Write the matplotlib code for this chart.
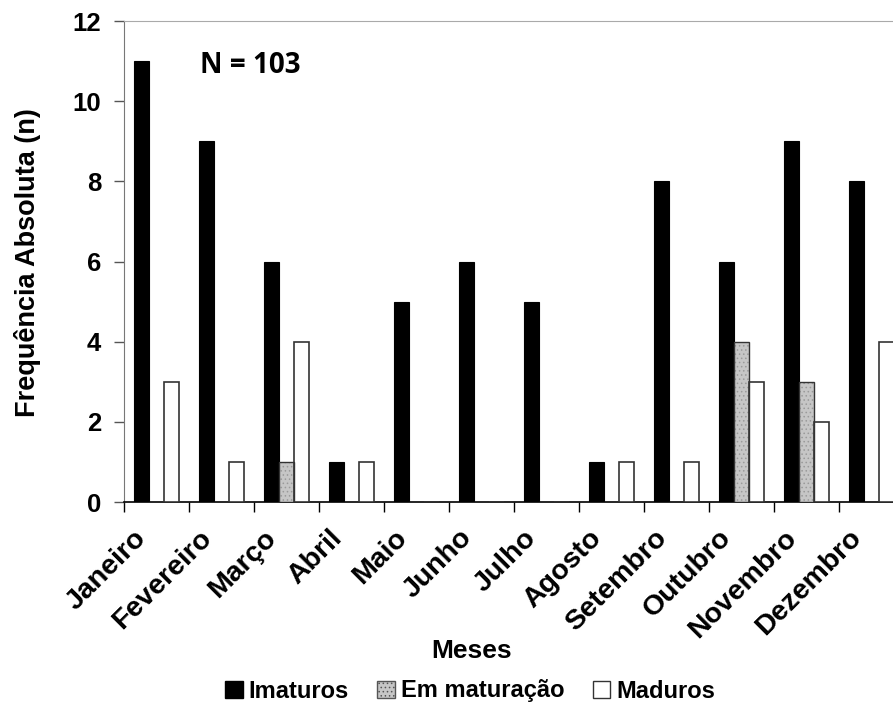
import matplotlib
matplotlib.use("Agg")
import matplotlib.pyplot as plt
import matplotlib.transforms as mtransforms
import numpy as np
from matplotlib.patches import Patch

months = ["Janeiro", "Fevereiro", "Março", "Abril", "Maio", "Junho", "Julho",
          "Agosto", "Setembro", "Outubro", "Novembro", "Dezembro"]
imaturos = [11, 9, 6, 1, 5, 6, 5, 1, 8, 6, 9, 8]
em_maturacao = [0, 0, 1, 0, 0, 0, 0, 0, 0, 4, 3, 0]
maduros = [3, 1, 4, 1, 0, 0, 0, 1, 1, 3, 2, 4]
series_names = ["Imaturos", "Em maturação", "Maduros"]
yticks = [0, 2, 4, 6, 8, 10, 12]

plt.rcParams['font.family'] = ['Liberation Sans', 'DejaVu Sans']
plt.rcParams['hatch.linewidth'] = 0.6

fig = plt.figure(figsize=(8.93, 7.13), dpi=100)
W, H = 893, 713
left, right, top, bottom = 124, 904, 21, 502
ax = fig.add_axes([left / W, 1 - bottom / H, (right - left) / W, (bottom - top) / H])

x = np.arange(len(months))
bw = 0.23
ax.bar(x - bw, imaturos, bw, color='black', edgecolor='black', linewidth=0.8, zorder=3)
ax.bar(x, em_maturacao, bw, color='#c6c6c6', edgecolor='#9a9a9a', linewidth=0,
       hatch='....', zorder=3)
ax.bar(x, em_maturacao, bw, fill=False, edgecolor='#333333', linewidth=1.0, zorder=4)
ax.bar(x + bw, maduros, bw, color='white', edgecolor='#333333', linewidth=1.2, zorder=3)

ax.set_xlim(-0.5, len(months) - 0.5)
ax.set_ylim(0, 12)
ax.set_yticks(yticks)
ax.set_yticklabels([str(t) for t in yticks], fontsize=18.5, fontweight='bold')
ax.tick_params(axis='y', direction='out', length=7, width=1, color='#555555', pad=9.5)

# category boundary ticks on x
ax.set_xticks(np.arange(-0.5, len(months), 1.0))
ax.set_xticklabels([])
ax.tick_params(axis='x', direction='out', length=7, width=1, color='black')
ax.set_xticks(x, minor=True)
ax.set_xticklabels(months, minor=True, rotation=45, ha='right', rotation_mode='anchor',
                   fontsize=20.5, fontweight='bold')
ax.tick_params(axis='x', which='minor', length=0, pad=10)
offset = mtransforms.ScaledTranslation(-23 / 100, -9 / 100, fig.dpi_scale_trans)
for lbl in ax.get_xticklabels(minor=True):
    lbl.set_transform(lbl.get_transform() + offset)

ax.spines['left'].set_color('#777777')
ax.spines['top'].set_color('#aaaaaa')
ax.spines['right'].set_visible(False)
ax.spines['bottom'].set_color('black')
ax.spines['bottom'].set_linewidth(1.2)

ax.text(0.097, 0.908, "N = 103", transform=ax.transAxes, fontsize=20, fontweight='bold',
        ha='left', va='center', family=['Open Sans', 'DejaVu Sans'])

fig.text(28 / W, 1 - 263 / H, "Frequência Absoluta (n)", rotation=90, fontsize=19.5,
         fontweight='bold', ha='center', va='center')
fig.text(472 / W, 1 - 651 / H, "Meses", fontsize=19, fontweight='bold', ha='center', va='center')

handles = [Patch(facecolor='black', edgecolor='black'),
           Patch(facecolor='#c6c6c6', edgecolor='#555555', hatch='....'),
           Patch(facecolor='white', edgecolor='#333333')]
fig.legend(handles, series_names, loc='center', bbox_to_anchor=(470 / W, 1 - 691 / H),
           ncol=3, frameon=False, prop={'weight': 'bold', 'size': 17},
           handlelength=0.75, handleheight=0.75, handletextpad=0.25, columnspacing=1.2)

fig.savefig("out.png", dpi=100)
